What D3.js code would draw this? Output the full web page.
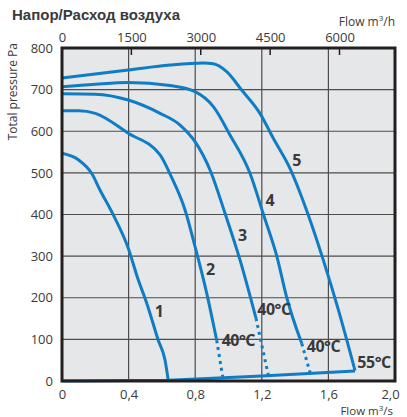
<!DOCTYPE html>
<html>
<head>
<meta charset="utf-8">
<script src="https://cdn.jsdelivr.net/npm/d3@7"></script>
<style>
  body { margin: 0; background: #fff; }
  text { font-family: "Open Sans", sans-serif; fill: #3a3a3a; }
</style>
</head>
<body>
<div id="chart"></div>
<script>
// flow in m3/s, pressure in Pa
const curve1 = [[0,547],[0.1,531],[0.178,499],[0.228,459],[0.308,399],[0.398,319],[0.458,243],[0.509,187],[0.578,98],[0.619,50],[0.638,2]];
const curve2 = [[0,649],[0.1,649],[0.2,643],[0.398,595],[0.589,543],[0.655,492],[0.739,411],[0.799,323],[0.869,211],[0.929,98]];
const curve3 = [[0,690],[0.2,689],[0.398,675],[0.589,643],[0.709,615],[0.799,575],[0.889,507],[0.979,403],[1.069,291],[1.165,151]];
const curve4 = [[0,707],[0.2,713],[0.398,717],[0.649,710],[0.799,695],[0.909,659],[1.009,591],[1.129,499],[1.21,400],[1.29,300],[1.35,200],[1.44,90]];
const curve5 = [[0,728],[0.398,747],[0.649,759],[0.849,764],[0.909,762],[0.989,743],[1.079,699],[1.189,643],[1.269,583],[1.369,511],[1.479,399],[1.569,291],[1.66,171],[1.76,25]];
const bottomLine = [[0,0],[0.64,2],[1.2,12],[1.76,24]];
// 40°C continuation (dotted)
const dotted2 = [[0.929,98],[0.965,10]];
const dotted3 = [[1.165,151],[1.239,14]];
const dotted4 = [[1.44,90],[1.49,20]];

const curveNames = ["1","2","3","4","5"];
const curveLabelPos = [[0.585,167],[0.893,269],[1.085,351],[1.249,435],[1.41,531]];
const tempLabels = ["40°C","40°C","40°C","55°C"];
const tempLabelPos = [[0.959,98],[1.173,172],[1.47,84],[1.774,44]];

const flowTicks = [0,0.4,0.8,1.2,1.6,2.0];
const flowHourTicks = [0,1500,3000,4500,6000];
const pressureTicks = [0,100,200,300,400,500,600,700,800];

const width = 407;
const height = 417;
const margin = {top: 48, right: 12, bottom: 36, left: 62};
const blue = "#0f7cc4";

const svg = d3.select("#chart")
  .append("svg")
  .attr("width", width)
  .attr("height", height);

let x = d3.scaleLinear().domain([0, 2]).range([margin.left, width - margin.right]);
let xh = d3.scaleLinear().domain([0, 7200]).range([margin.left, width - margin.right]);
let y = d3.scaleLinear().domain([0, 800]).range([height - margin.bottom, margin.top]);

// plot background
svg.append("rect")
  .attr("x", x(0)).attr("y", y(800))
  .attr("width", x(2) - x(0)).attr("height", y(0) - y(800))
  .attr("fill", "#e6e7e9");

// grid
svg.append("g")
  .selectAll("line")
  .data(pressureTicks.slice(1, -1))
  .join("line")
    .attr("x1", x(0)).attr("x2", x(2))
    .attr("y1", d => y(d)).attr("y2", d => y(d))
    .attr("stroke", "#4d4d4d").attr("stroke-width", 1.2);

svg.append("g")
  .selectAll("line")
  .data(flowTicks.slice(1, -1))
  .join("line")
    .attr("x1", d => x(d)).attr("x2", d => x(d))
    .attr("y1", y(0)).attr("y2", y(800))
    .attr("stroke", "#4d4d4d").attr("stroke-width", 1.2);

// top small ticks (m3/h)
svg.append("g")
  .selectAll("line")
  .data(flowHourTicks.slice(1))
  .join("line")
    .attr("x1", d => xh(d)).attr("x2", d => xh(d))
    .attr("y1", y(800)).attr("y2", y(800) + 7)
    .attr("stroke", "#231f20").attr("stroke-width", 1.5);

// axes labels
const fmt = d => d === 0 ? "0" : d3.format(".1f")(d).replace(".", ",");

const xAxis = svg.append("g")
  .attr("transform", "translate(0," + y(0) + ")")
  .call(d3.axisBottom(x).tickValues(flowTicks).tickFormat(fmt).tickSize(0).tickPadding(9));

const topAxis = svg.append("g")
  .attr("transform", "translate(0," + y(800) + ")")
  .call(d3.axisTop(xh).tickValues(flowHourTicks).tickFormat(d3.format("d")).tickSize(0).tickPadding(6));

const yAxis = svg.append("g")
  .attr("transform", "translate(" + x(0) + ",0)")
  .call(d3.axisLeft(y).tickValues(pressureTicks).tickSize(0).tickPadding(9));

[xAxis, topAxis, yAxis].forEach(a => {
  a.select(".domain").remove();
  a.selectAll("text").style("font-size", "13px").attr("fill", "#3a3a3a")
    .style("font-family", "'Open Sans', sans-serif");
});
xAxis.selectAll(".tick:last-of-type text").attr("dx", "-5");

// curves
const line = d3.line().x(d => x(d[0])).y(d => y(d[1])).curve(d3.curveMonotoneX);
const straight = d3.line().x(d => x(d[0])).y(d => y(d[1]));

svg.append("g")
  .selectAll("path")
  .data([curve1, curve2, curve3, curve4, curve5])
  .join("path")
    .attr("d", line)
    .attr("fill", "none")
    .attr("stroke", blue)
    .attr("stroke-width", 3);

svg.append("path")
  .attr("d", straight(bottomLine))
  .attr("fill", "none").attr("stroke", blue).attr("stroke-width", 3);

svg.append("g")
  .selectAll("path")
  .data([dotted2, dotted3, dotted4])
  .join("path")
    .attr("d", straight)
    .attr("fill", "none")
    .attr("stroke", blue)
    .attr("stroke-width", 3)
    .attr("stroke-dasharray", "3,4");

// frame
svg.append("rect")
  .attr("x", x(0)).attr("y", y(800))
  .attr("width", x(2) - x(0)).attr("height", y(0) - y(800))
  .attr("fill", "none").attr("stroke", "#231f20").attr("stroke-width", 3);

// curve numbers
svg.append("g")
  .selectAll("text")
  .data(curveNames)
  .join("text")
    .attr("x", (d, i) => x(curveLabelPos[i][0]))
    .attr("y", (d, i) => y(curveLabelPos[i][1]))
    .attr("text-anchor", "middle")
    .attr("dy", "0.36em")
    .style("font-size", "16px").style("font-weight", "bold")
    .attr("fill", "#231f20")
    .text(d => d);

svg.append("g")
  .selectAll("text")
  .data(tempLabels)
  .join("text")
    .attr("x", (d, i) => x(tempLabelPos[i][0]))
    .attr("y", (d, i) => y(tempLabelPos[i][1]))
    .attr("dy", "0.36em")
    .style("font-size", "16px").style("font-weight", "bold")
    .style("letter-spacing", "-0.5px")
    .attr("fill", "#231f20")
    .text(d => d);

// titles
svg.append("text")
  .attr("x", 12).attr("y", 20)
  .style("font-family", "'Liberation Sans', Arial, sans-serif")
  .style("font-size", "15px").style("font-weight", "bold")
  .attr("fill", "#231f20")
  .text("Напор/Расход воздуха");

const unitTop = svg.append("text")
  .attr("x", 395).attr("y", 26)
  .attr("text-anchor", "end")
  .style("font-size", "12px");
unitTop.append("tspan").text("Flow m");
unitTop.append("tspan").attr("dy", -5).style("font-size", "8px").text("3");
unitTop.append("tspan").attr("dy", 5).text("/h");

const unitBottom = svg.append("text")
  .attr("x", 393).attr("y", 415)
  .attr("text-anchor", "end")
  .style("font-size", "11.5px");
unitBottom.append("tspan").text("Flow m");
unitBottom.append("tspan").attr("dy", -4).style("font-size", "8px").text("3");
unitBottom.append("tspan").attr("dy", 4).text("/s");

svg.append("text")
  .attr("transform", "translate(17,43) rotate(-90)")
  .attr("text-anchor", "end")
  .style("font-size", "12px")
  .text("Total pressure Pa");
</script>
</body>
</html>
